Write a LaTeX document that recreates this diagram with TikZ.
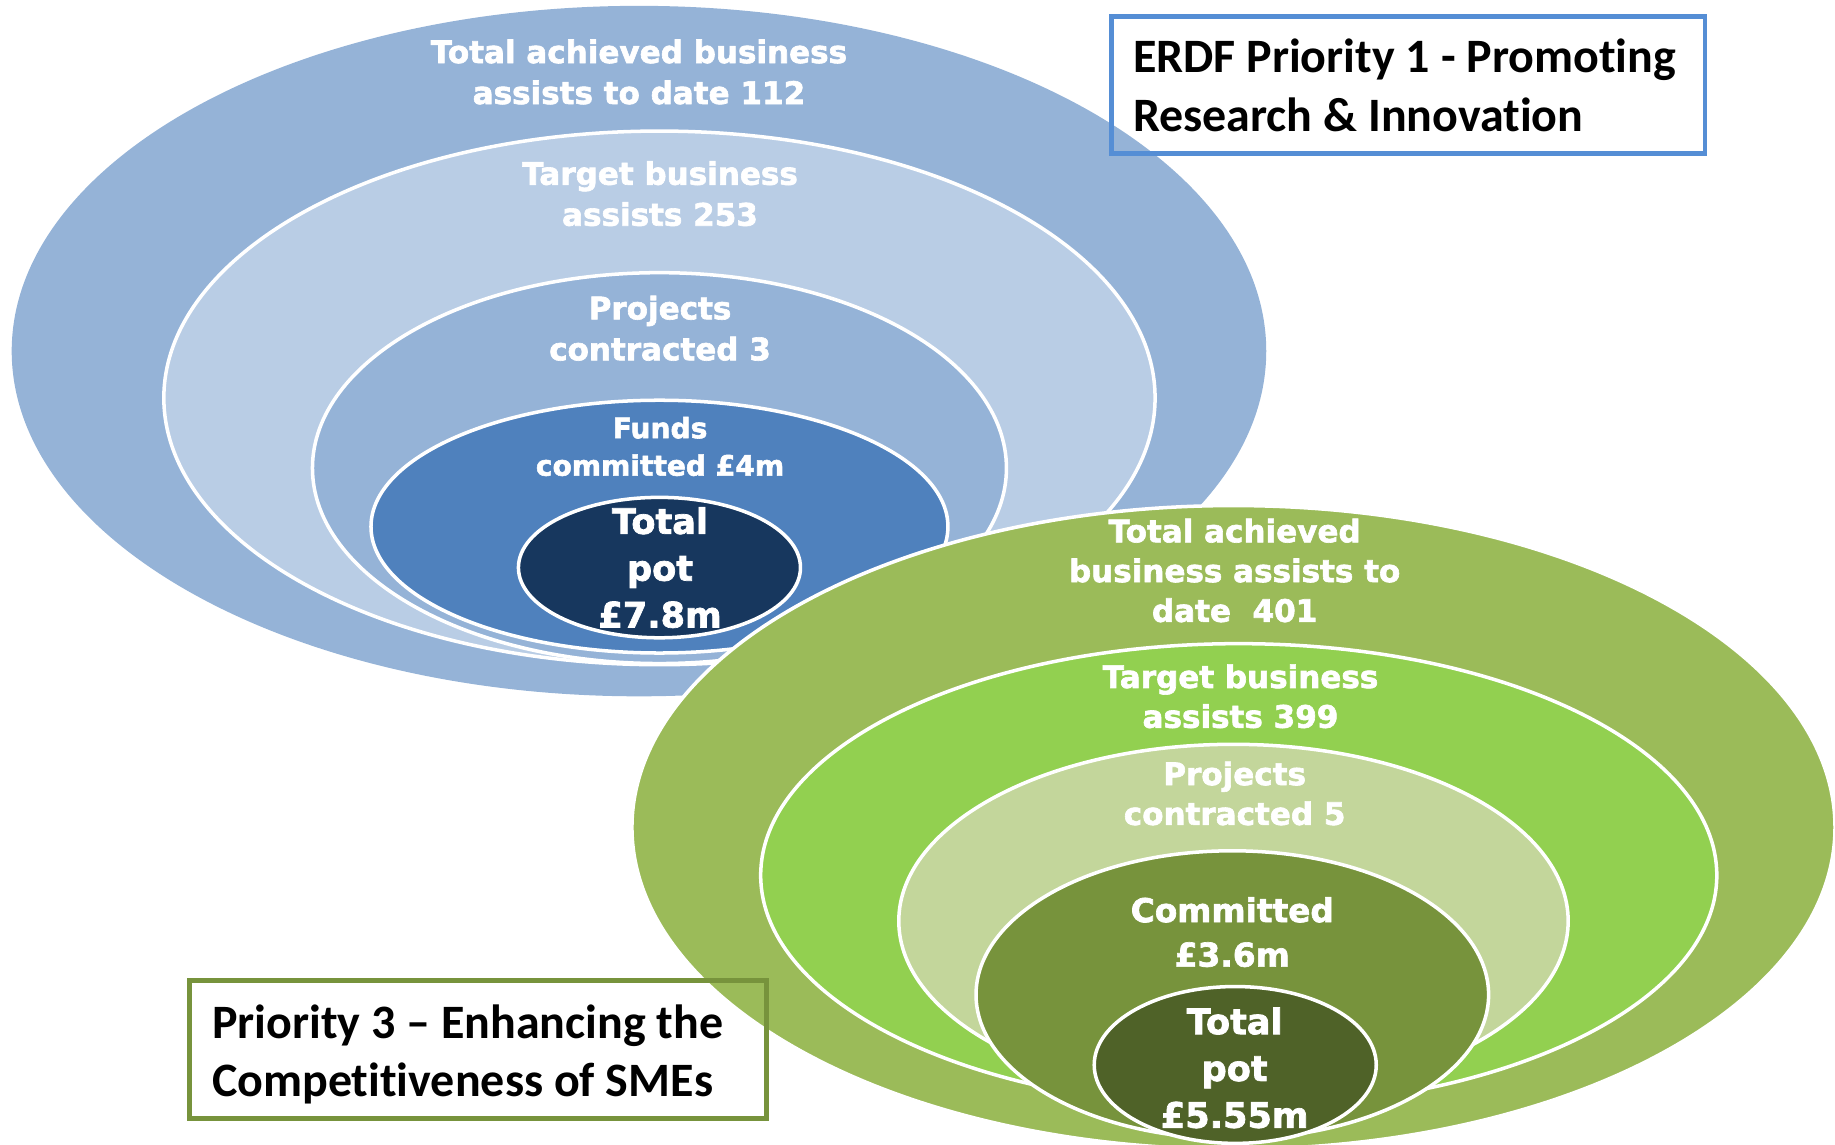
\documentclass[tikz,border=0pt]{standalone}
\usepackage{fontspec}
\newfontfamily\ellfont{DejaVu Sans}[BoldFeatures={FakeBold=2}]
\newfontfamily\boxfont{Carlito}[Ligatures={NoCommon}]
\definecolor{blueA}{HTML}{95B3D7}
\definecolor{blueB}{HTML}{B9CDE5}
\definecolor{blueC}{HTML}{4F81BD}
\definecolor{navy}{HTML}{17375E}
\definecolor{greenA}{HTML}{9BBB59}
\definecolor{greenB}{HTML}{92D050}
\definecolor{greenC}{HTML}{C3D69B}
\definecolor{greenD}{HTML}{77933C}
\definecolor{greenE}{HTML}{4F6228}
\definecolor{boxblue}{HTML}{558ED5}
\tikzset{
  ring/.style={draw=white, line width=3pt},
  lbl/.style={text=white, font=\ellfont\bfseries\fontsize{26.5}{35}\selectfont, align=center, inner sep=0pt},
  lblg/.style={lbl, font=\ellfont\bfseries\fontsize{26.5}{34}\selectfont},
  lblsm/.style={lbl, font=\ellfont\bfseries\fontsize{24}{32}\selectfont},
  lblmid/.style={lbl, font=\ellfont\bfseries\fontsize{28}{38}\selectfont},
  lblbig/.style={lbl, font=\ellfont\bfseries\fontsize{30}{40}\selectfont},
  boxtxt/.style={font=\boxfont\bfseries\fontsize{41}{50}\selectfont, align=left, anchor=west, inner sep=0pt},
}
\begin{document}
\begin{tikzpicture}[x=1pt,y=1pt]
\useasboundingbox (0,0) rectangle (1568,978);
\clip (0,0) rectangle (1568,978);
% blue group
\fill[blueA] (546,678) ellipse [x radius=536, y radius=295];
\filldraw[fill=blueB, ring] (563.5,638) ellipse [x radius=423.5, y radius=228];
\filldraw[fill=blueA, ring] (563.5,578) ellipse [x radius=296.5, y radius=167];
\filldraw[fill=blueC, ring] (563.5,528) ellipse [x radius=246.5, y radius=108];
\filldraw[fill=navy, ring] (563.5,493) ellipse [x radius=120.5, y radius=60];
\node[lbl] (b1) at (546,916.5) {Total achieved business\\assists to date 112};
\node[lbl] (b2) at (564,812.5) {Target business\\assists 253};
\node[lbl] (b3) at (564,697.5) {Projects\\contracted 3};
\node[lblsm] (b4) at (564,596.5) {Funds\\committed £4m};
\node[lblbig] (b5) at (564,493) {Total\\pot\\£7.8m};
% green group
\filldraw[fill=greenA, ring] (1054,271) ellipse [x radius=514, y radius=275];
\filldraw[fill=greenB, ring] (1058.5,230) ellipse [x radius=408.5, y radius=198];
\filldraw[fill=greenC, ring] (1054,191) ellipse [x radius=286, y radius=151];
\filldraw[fill=greenD, ring] (1053,128) ellipse [x radius=219, y radius=123];
\filldraw[fill=greenE, ring] (1055.5,68) ellipse [x radius=120.5, y radius=67];
\node[lblg] (g1) at (1055,490.5) {Total achieved\\business assists to\\date\ \ 401};
\node[lblg] (g2) at (1060,383) {Target business\\assists 399};
\node[lblg] (g3) at (1055,300) {Projects\\contracted 5};
\node[lblmid] (g4) at (1053,181.5) {Committed\\£3.6m};
\node[lblbig] (g5) at (1055,65.5) {Total\\pot\\£5.55m};
% boxes
\draw[boxblue, line width=4pt] (950,964) rectangle (1457,847);
\node[boxtxt] (t1) at (968,905) {ERDF Priority 1 - Promoting\\Research \& Innovation};
\draw[greenD, line width=4pt] (162,140) rectangle (655,22);
\node[boxtxt] (t2) at (181,77) {Priority 3 – Enhancing the\\Competitiveness of SMEs};
\end{tikzpicture}
\end{document}
